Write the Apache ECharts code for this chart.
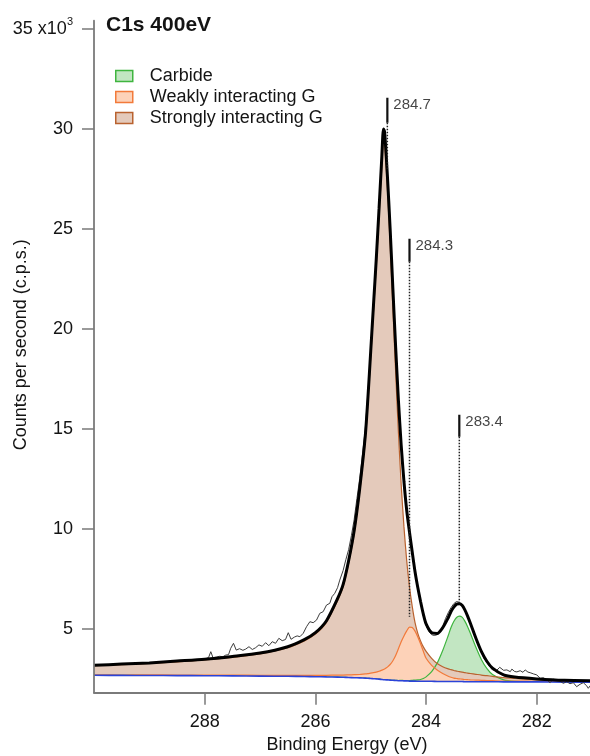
<!DOCTYPE html>
<html>
<head>
<meta charset="utf-8">
<title>C1s 400eV</title>
<script src="https://cdn.jsdelivr.net/npm/echarts@6/dist/echarts.min.js"></script>
<style>
  html, body { margin: 0; padding: 0; background: #ffffff; }
  #chart { width: 590px; height: 756px; }
</style>
</head>
<body>
<div id="chart"></div>
<script>
// C1s core-level spectrum (400 eV photon energy) with its peak fit.
// Intensities are in thousands of counts per second.

// Binding energy grid shared by the fit curves (eV)
const bindingEnergy = [
  290.0, 289.5, 289.0, 288.5, 288.0, 287.5, 287.0, 286.5, 286.2, 286.0,
  285.8, 285.6, 285.5, 285.4, 285.3, 285.2, 285.1, 285.05, 285.0, 284.95,
  284.9, 284.85, 284.8, 284.77, 284.75, 284.7, 284.65, 284.6, 284.55, 284.5,
  284.45, 284.4, 284.35, 284.3, 284.25, 284.2, 284.15, 284.1, 284.05, 284.0,
  283.9, 283.8, 283.7, 283.6, 283.55, 283.5, 283.45, 283.4, 283.35, 283.3,
  283.25, 283.2, 283.1, 283.0, 282.9, 282.8, 282.6, 282.4, 282.0, 281.5,
  281.0
];

// Shirley-type background
const background = [
  2.67, 2.665, 2.66, 2.655, 2.65, 2.64, 2.63, 2.62, 2.61, 2.60,
  2.59, 2.58, 2.57, 2.56, 2.55, 2.54, 2.53, 2.52, 2.51, 2.50,
  2.49, 2.48, 2.46, 2.45, 2.45, 2.44, 2.43, 2.42, 2.41, 2.40,
  2.40, 2.39, 2.39, 2.38, 2.38, 2.38, 2.37, 2.37, 2.37, 2.37,
  2.37, 2.36, 2.36, 2.36, 2.36, 2.36, 2.36, 2.36, 2.36, 2.35,
  2.35, 2.35, 2.35, 2.35, 2.35, 2.35, 2.34, 2.34, 2.34, 2.33,
  2.33
];

// Component intensities above the background
const strongNet = [
  0.48, 0.54, 0.60, 0.69, 0.79, 0.93, 1.11, 1.43, 1.78, 2.13,
  2.73, 3.82, 4.52, 5.71, 7.2, 9.29, 11.86, 13.85, 16.12, 18.4,
  20.67, 23.13, 25.66, 27.03, 26.85, 24.6, 21.8, 18.6, 15.4, 12.4,
  9.8, 7.7, 6.0, 4.72, 3.72, 2.92, 2.4, 2.02, 1.72, 1.5,
  1.15, 0.9, 0.74, 0.63, 0.59, 0.55, 0.52, 0.49, 0.47, 0.45,
  0.43, 0.41, 0.37, 0.33, 0.30, 0.27, 0.21, 0.17, 0.11, 0.07,
  0.05
];

const weakNet = [
  0.02, 0.02, 0.03, 0.03, 0.03, 0.04, 0.04, 0.05, 0.06, 0.07,
  0.08, 0.10, 0.11, 0.13, 0.15, 0.17, 0.21, 0.23, 0.27, 0.30,
  0.34, 0.39, 0.47, 0.51, 0.54, 0.64, 0.78, 0.98, 1.25, 1.6,
  1.95, 2.25, 2.5, 2.70, 2.68, 2.5, 2.22, 1.88, 1.5, 1.15,
  0.8, 0.58, 0.4, 0.26, 0.21, 0.17, 0.15, 0.13, 0.12, 0.11,
  0.10, 0.09, 0.08, 0.07, 0.06, 0.05, 0.04, 0.04, 0.03, 0.02,
  0.02
];

const carbideNet = [
  0, 0, 0, 0, 0, 0, 0, 0, 0, 0,
  0, 0, 0, 0, 0, 0, 0, 0, 0, 0,
  0, 0, 0, 0, 0, 0, 0, 0, 0.01, 0.01,
  0.015, 0.02, 0.02, 0.03, 0.04, 0.05, 0.07, 0.09, 0.14, 0.22,
  0.48, 0.92, 1.55, 2.3, 2.7, 3.0, 3.2, 3.27, 3.22, 3.03,
  2.75, 2.42, 1.72, 1.1, 0.65, 0.36, 0.1, 0.03, 0.01, 0,
  0
];

// Fit envelope (background + all components)
const envelope = [
  3.17, 3.23, 3.29, 3.38, 3.47, 3.61, 3.78, 4.10, 4.45, 4.80,
  5.40, 6.50, 7.20, 8.40, 9.90, 12.00, 14.60, 16.60, 18.90, 21.20,
  23.50, 26.00, 28.59, 29.99, 29.84, 27.68, 25.01, 22.00, 19.07, 16.41,
  14.17, 12.36, 10.91, 9.83, 8.82, 7.85, 7.06, 6.36, 5.73, 5.24,
  4.80, 4.76, 5.05, 5.55, 5.86, 6.08, 6.23, 6.25, 6.17, 5.94,
  5.63, 5.27, 4.52, 3.85, 3.36, 3.03, 2.69, 2.58, 2.49, 2.42,
  2.40
];

// Measured spectrum
const rawEnergy = [
  288.10, 288.04, 287.98, 287.93, 287.89, 287.85, 287.79, 287.73, 287.67, 287.62,
  287.57, 287.53, 287.48, 287.43, 287.37, 287.31, 287.26, 287.20, 287.14, 287.08,
  287.02, 286.96, 286.90, 286.84, 286.78, 286.72, 286.66, 286.60, 286.54, 286.49,
  286.44, 286.38, 286.33, 286.28, 286.22, 286.16, 286.10, 286.04, 285.98, 285.92,
  285.86, 285.80, 285.74, 285.70, 285.65, 285.60, 285.56, 285.50, 285.45, 285.40,
  285.35, 285.30, 285.25, 285.20, 285.15, 285.10, 285.05, 285.00, 284.95, 284.90,
  284.85, 284.80, 284.77, 284.74, 284.70, 284.65, 284.60, 284.55, 284.50, 284.45,
  284.40, 284.35, 284.30, 284.25, 284.20, 284.15, 284.10, 284.05, 284.00, 283.95,
  283.90, 283.85, 283.80, 283.75, 283.70, 283.65, 283.60, 283.55, 283.50, 283.45,
  283.40, 283.35, 283.30, 283.25, 283.20, 283.15, 283.10, 283.05, 283.00, 282.95,
  282.90, 282.85, 282.80, 282.73, 282.67, 282.60, 282.54, 282.48, 282.45, 282.40,
  282.36, 282.30, 282.25, 282.21, 282.16, 282.12, 282.06, 282.00, 281.94, 281.88,
  281.82, 281.76, 281.70, 281.67, 281.60, 281.52, 281.46, 281.40, 281.34, 281.28,
  281.22, 281.16, 281.10, 281.07, 281.02
];
const rawCounts = [
  3.44, 3.48, 3.50, 3.56, 3.85, 3.55, 3.58, 3.62, 3.60, 3.68,
  3.70, 4.02, 4.27, 3.93, 4.00, 3.92, 3.98, 4.10, 3.96, 4.05,
  4.19, 4.12, 4.30, 4.15, 4.35, 4.27, 4.52, 4.40, 4.46, 4.80,
  4.47, 4.58, 4.64, 4.60, 4.77, 5.10, 5.35, 5.30, 5.43, 5.77,
  5.85, 6.18, 6.27, 6.60, 6.77, 7.05, 7.43, 7.90, 8.45, 8.95,
  9.65, 10.45, 11.5, 12.5, 13.7, 14.95, 16.8, 19.0, 21.3, 23.6,
  26.1, 28.7, 30.0, 29.8, 27.8, 25.1, 22.1, 19.2, 16.5, 14.25,
  12.4, 10.95, 9.85, 8.8, 7.82, 7.02, 6.3, 5.66, 5.16, 4.85,
  4.7, 4.66, 4.7, 4.85, 5.12, 5.5, 5.8, 6.05, 6.25, 6.36,
  6.32, 6.2, 5.95, 5.62, 5.25, 4.9, 4.5, 4.15, 3.82, 3.5,
  3.3, 3.1, 2.94, 2.90, 3.07, 2.92, 2.94, 2.85, 2.98, 2.86,
  2.84, 2.90, 2.82, 2.94, 2.83, 2.80, 2.74, 2.69, 2.52, 2.55,
  2.45, 2.30, 2.48, 2.57, 2.40, 2.27, 2.35, 2.25, 2.30, 2.10,
  2.22, 2.30, 2.15, 2.02, 2.20
];

// Peak position markers: energy, top of marker, end of solid part, end of dotted part
const markerEnergy = [284.7, 284.3, 283.4];
const markerTop = [31.55, 24.5, 15.7];
const markerSolidEnd = [30.3, 23.35, 14.6];
const markerDotEnd = [28.0, 5.6, 6.2];

// Axis ticks
const xTicks = [288, 286, 284, 282];
const yTicks = [5, 10, 15, 20, 25, 30, 35];

const FONT = '"Liberation Sans", Arial, Helvetica, sans-serif';
const TEXT = '#141414';
const AXIS = '#7a7a7a';

// Drawn in this order: later fills lie over earlier ones
const components = [
  { name: 'Carbide', values: carbideNet, line: '#3fb53f', fill: '#c2e6c2' },
  { name: 'Strongly interacting G', values: strongNet, line: '#b9622f', fill: '#e4cabb' },
  { name: 'Weakly interacting G', values: weakNet, line: '#f27a3a', fill: '#fdd2b8' }
];

const onGrid = (ys) => bindingEnergy.map((e, i) => [e, ys[i]]);
// Component curve sitting on top of the background
const onBackground = (net) => bindingEnergy.map((e, i) => [e, background[i] + net[i]]);

const series = [];

// Component areas, each filled down to the axis; the background mask below trims them
components.forEach((c) => {
  series.push({
    type: 'line',
    name: c.name,
    data: onBackground(c.values),
    symbol: 'none',
    smooth: 0.25,
    lineStyle: { color: c.line, width: 1.2 },
    itemStyle: { color: c.fill },
    areaStyle: { color: c.fill, opacity: 1, origin: 'start' },
    emphasis: { disabled: true },
    z: 2
  });
});

// Background line, with white below it so the component areas start at the background
series.push({
  type: 'line',
  name: 'Background',
  data: onGrid(background),
  symbol: 'none',
  smooth: 0.25,
  lineStyle: { color: '#2b43d8', width: 1.6 },
  areaStyle: { color: '#ffffff', opacity: 1, origin: 'start' },
  emphasis: { disabled: true },
  z: 3
});

// Measured data
series.push({
  type: 'line',
  name: 'Data',
  data: rawEnergy.map((e, i) => [e, rawCounts[i]]),
  symbol: 'none',
  lineStyle: { color: '#3c3c3c', width: 1 },
  emphasis: { disabled: true },
  z: 4
});

// Fit envelope
series.push({
  type: 'line',
  name: 'Envelope',
  data: onGrid(envelope),
  symbol: 'none',
  smooth: 0.25,
  lineStyle: { color: '#000000', width: 3 },
  emphasis: { disabled: true },
  z: 5
});

// Peak markers
markerEnergy.forEach((e, i) => {
  series.push({
    type: 'line',
    name: 'marker-dot-' + i,
    data: [[e, markerSolidEnd[i]], [e, markerDotEnd[i]]],
    symbol: 'none',
    lineStyle: { color: '#222222', width: 1.5, type: [1.5, 1.5] },
    emphasis: { disabled: true },
    z: 6
  });
  series.push({
    type: 'line',
    name: 'marker-solid-' + i,
    data: [[e, markerTop[i]], [e, markerSolidEnd[i]]],
    symbol: 'none',
    lineStyle: { color: '#111111', width: 2.2 },
    emphasis: { disabled: true },
    z: 6
  });
});

series.push({
  type: 'scatter',
  name: 'marker-labels',
  data: markerEnergy.map((e, i) => [e, markerTop[i]]),
  symbolSize: 0,
  label: {
    show: true,
    position: 'right',
    distance: 6,
    offset: [0, 7],
    formatter: (p) => p.value[0].toFixed(1),
    fontFamily: FONT,
    fontSize: 15,
    color: TEXT
  },
  emphasis: { disabled: true },
  z: 7
});

const option = {
  animation: false,
  backgroundColor: '#ffffff',
  title: {
    text: 'C1s 400eV',
    left: 106,
    top: 15,
    padding: 0,
    textStyle: { fontFamily: FONT, fontSize: 21, fontWeight: 'bold', color: TEXT }
  },
  legend: {
    orient: 'vertical',
    left: 115,
    top: 66,
    padding: 0,
    itemWidth: 17,
    itemHeight: 11,
    itemGap: 1,
    selectedMode: false,
    textStyle: { fontFamily: FONT, fontSize: 18, lineHeight: 20, color: TEXT, padding: [0, 0, 0, 12] },
    data: [
      { name: 'Carbide', icon: 'rect', itemStyle: { color: '#c2e6c2', borderColor: '#3fb53f', borderWidth: 1.5 } },
      { name: 'Weakly interacting G', icon: 'rect', itemStyle: { color: '#fdd2b8', borderColor: '#f27a3a', borderWidth: 1.5 } },
      { name: 'Strongly interacting G', icon: 'rect', itemStyle: { color: '#e4cabb', borderColor: '#b9622f', borderWidth: 1.5 } }
    ]
  },
  grid: { left: 94, right: -2.15, top: 20.7, bottom: 63.3, containLabel: false, outerBoundsMode: 'none' },
  xAxis: {
    type: 'value',
    inverse: true,
    min: 281,
    max: 290,
    z: 10,
    name: 'Binding Energy (eV)',
    nameLocation: 'middle',
    nameGap: 43,
    nameMoveOverlap: false,
    nameTextStyle: { fontFamily: FONT, fontSize: 18, color: TEXT, padding: [0, 0, 0, 8] },
    axisLine: { show: true, onZero: false, lineStyle: { color: AXIS, width: 1.8 } },
    axisTick: { show: true, length: 12, customValues: xTicks, lineStyle: { color: AXIS, width: 1.5 } },
    axisLabel: { show: true, customValues: xTicks, margin: 20, fontFamily: FONT, fontSize: 18, color: TEXT },
    splitLine: { show: false }
  },
  yAxis: {
    type: 'value',
    min: 1.8,
    max: 35.4,
    z: 10,
    name: 'Counts per second (c.p.s.)',
    nameLocation: 'middle',
    nameGap: 64,
    nameRotate: 90,
    nameMoveOverlap: false,
    nameTextStyle: { fontFamily: FONT, fontSize: 18, color: TEXT, padding: [0, 0, 0, 24] },
    axisLine: { show: true, onZero: false, lineStyle: { color: AXIS, width: 1.8 } },
    axisTick: { show: true, length: 12, customValues: yTicks, lineStyle: { color: AXIS, width: 1.5 } },
    axisLabel: {
      show: true,
      customValues: yTicks,
      margin: 21,
      fontFamily: FONT,
      fontSize: 18,
      color: TEXT,
      formatter: (v) => (v === 35 ? '{b|35 x10}{s|3}' : String(v)),
      rich: {
        b: { fontFamily: FONT, fontSize: 18, color: TEXT, lineHeight: 24 },
        s: { fontFamily: FONT, fontSize: 11, color: TEXT, lineHeight: 10, padding: [0, 0, 14, 0] }
      }
    },
    splitLine: { show: false }
  },
  tooltip: { show: false },
  series: series
};

const chart = echarts.init(document.getElementById('chart'), null, { renderer: 'canvas' });
chart.setOption(option);
</script>
</body>
</html>
